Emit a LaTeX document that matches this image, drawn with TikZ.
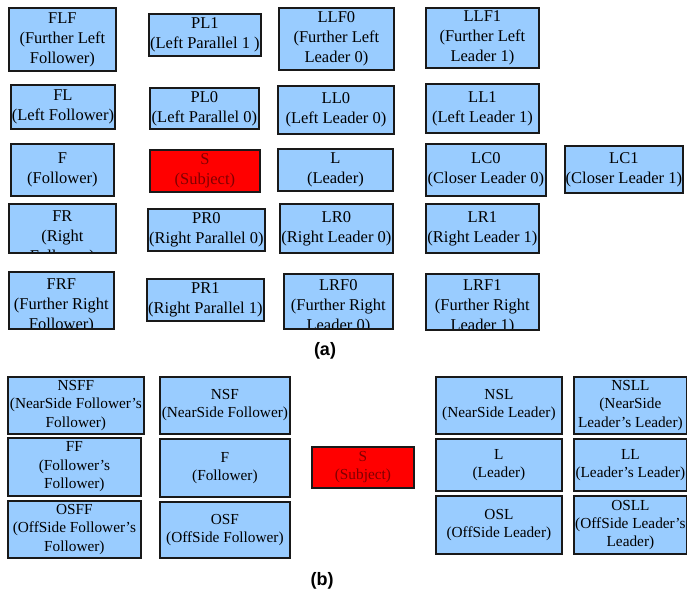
\documentclass[tikz,border=0pt]{standalone}
\usepackage{fontspec}
\setmainfont{Liberation Serif}
\setsansfont{Liberation Sans}
\usetikzlibrary{positioning}
\definecolor{CarBlue}{RGB}{153,204,255}
\definecolor{SubjRed}{RGB}{255,0,0}
\definecolor{SubjText}{RGB}{128,0,0}

\begin{document}
\begin{tikzpicture}[x=1pt, y=-1pt,
      every node/.style={align=center, inner sep=0pt},
      sz/.style 2 args={minimum width=#1pt, minimum height=#2pt},
      car/.style={draw=black!90, line width=1.8pt, fill=CarBlue, anchor=north west, font=\fontsize{16.5}{20}\selectfont},
      carb/.style={car, font=\fontsize{15.3}{18.3}\selectfont},
      subj/.style={fill=SubjRed, text=SubjText},
      cut/.style n args={3}{path picture={\node[anchor=north, font=\fontsize{16.5}{20}\selectfont] (#1) at ([yshift=-#2pt]path picture bounding box.north) {#3};}},
      tag/.style={font=\sffamily\bfseries\fontsize{18}{20}\selectfont}
  ]
    \useasboundingbox (0,0) rectangle (687,598);
    % (a) lane layout
    \node[car, sz={107}{63}] (flf) at (8,7) {FLF\\(Further Left\\Follower)};
    \node[car, sz={112}{42}] (pl1) at (148,13) {PL1\\(Left Parallel 1 )};
    \node[car, sz={115}{62}] (llf0) at (278,7) {LLF0\\(Further Left\\Leader 0)};
    \node[car, sz={113}{60}] (llf1) at (425,7) {LLF1\\(Further Left\\Leader 1)};
    \node[car, sz={104}{44}] (fl) at (10,84) {FL\\(Left Follower)};
    \node[car, sz={109}{41}] (pl0) at (149,87) {PL0\\(Left Parallel 0)};
    \node[car, sz={116}{48}] (ll0) at (277,85) {LL0\\(Left Leader 0)};
    \node[car, sz={113}{49}] (ll1) at (425,83) {LL1\\(Left Leader 1)};
    \node[car, sz={103}{52}] (f) at (10,143) {F\\(Follower)};
    \node[car, subj, sz={110}{42}] (s) at (149,149) {S\\(Subject)};
    \node[car, sz={115}{42}] (l) at (277,148) {L\\(Leader)};
    \node[car, sz={120}{52}] (lc0) at (425,143) {LC0\\(Closer Leader 0)};
    \node[car, sz={118}{47}] (lc1) at (564,145) {LC1\\(Closer Leader 1)};
    \node[car, sz={107}{49}, cut={frtext}{6}{FR\\(Right\\Follower)}] (fr) at (8,203) {};
    \node[car, sz={117}{42}] (pr0) at (147,208) {PR0\\(Right Parallel 0)};
    \node[car, sz={113}{49}] (lr0) at (279,203) {LR0\\(Right Leader 0)};
    \node[car, sz={113}{49}] (lr1) at (425,203) {LR1\\(Right Leader 1)};
    \node[car, sz={105}{57}, cut={frftext}{5}{FRF\\(Further Right\\Follower)}] (frf) at (8,271) {};
    \node[car, sz={117}{42}] (pr1) at (146,278) {PR1\\(Right Parallel 1)};
    \node[car, sz={109}{55}, cut={lrf0text}{4}{LRF0\\(Further Right\\Leader 0)}] (lrf0) at (283,273) {};
    \node[car, sz={113}{56}, cut={lrf1text}{4}{LRF1\\(Further Right\\Leader 1)}] (lrf1) at (425,273) {};
    \node[tag] (taga) at (325,351) {(a)};
    % (b) neighbour layout
    \node[carb, sz={136}{57}] (nsff) at (7,376) {NSFF\\(NearSide Follower’s\\Follower)};
    \node[carb, sz={130}{57}] (nsf) at (159,376) {NSF\\(NearSide Follower)};
    \node[carb, sz={133}{58}] (ff) at (7,437) {FF\\(Follower’s\\Follower)};
    \node[carb, sz={130}{58}] (fb) at (159,438) {F\\(Follower)};
    \node[carb, sz={133}{57}] (osff) at (7,500) {OSFF\\(OffSide Follower’s\\Follower)};
    \node[carb, sz={130}{56}] (osf) at (159,501) {OSF\\(OffSide Follower)};
    \node[carb, subj, sz={102}{41}] (sb) at (311,446) {S\\(Subject)};
    \node[carb, sz={126}{57}] (nsl) at (435,376) {NSL\\(NearSide Leader)};
    \node[carb, sz={113}{57}] (nsll) at (573,376) {NSLL\\(NearSide\\Leader’s Leader)};
    \node[carb, sz={126}{52}] (lb) at (435,438) {L\\(Leader)};
    \node[carb, sz={113}{52}] (llb) at (573,438) {LL\\(Leader’s Leader)};
    \node[carb, sz={126}{58}] (osl) at (435,495) {OSL\\(OffSide Leader)};
    \node[carb, sz={113}{58}] (osll) at (573,495) {OSLL\\(OffSide Leader’s\\Leader)};
    \node[tag] (tagb) at (322,581) {(b)};
  \end{tikzpicture}
\end{document}
